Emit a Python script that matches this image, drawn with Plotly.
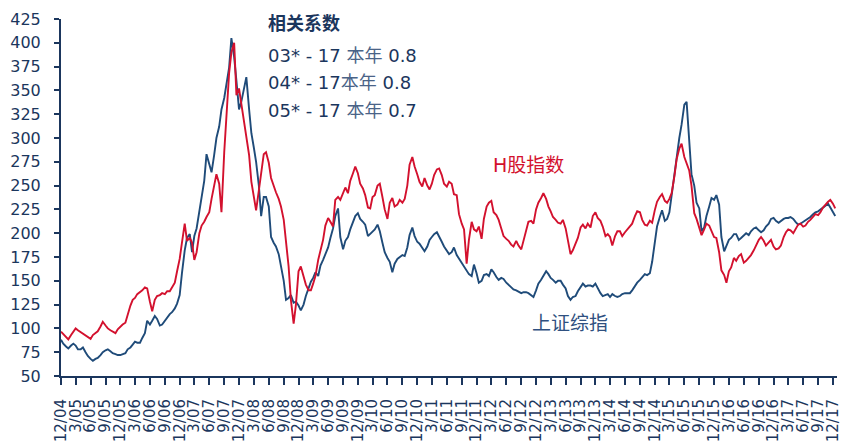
import pandas as pd
import plotly.graph_objects as go

# ---------------- data (semi-monthly readings, Dec 2004 - Dec 2017) ----------------
dates = pd.date_range("2004-12-01", periods=314, freq="SMS")

h_share = [
    96.6, 94,
    91, 88.5, 93, 97, 100, 98, 96, 95, 93, 91, 89, 93, 95, 97, 102, 107, 103, 100, 98, 97, 95, 99, 102, 104,
    106, 115, 124, 130, 132, 136, 138, 140, 143, 142, 128, 118, 130, 134, 135, 137, 136, 139, 139, 143, 148, 160, 173, 190,
    210, 192, 195, 190, 172, 180, 200, 208, 212, 217, 222, 236, 250, 262, 252, 222, 285, 328, 368, 390, 400, 345, 352, 336,
    317, 300, 282, 254, 240, 224, 245, 262, 283, 285, 274, 258, 249, 243, 236, 228, 214, 192, 165, 130, 105, 125, 160, 165,
    155, 146, 140, 140, 147, 155, 172, 183, 193, 208, 216, 212, 207, 235, 238, 235, 242, 248, 242, 255, 263, 270, 263, 252,
    247, 240, 227, 226, 238, 240, 250, 252, 238, 225, 215, 232, 237, 228, 230, 235, 232, 236, 250, 272, 280, 270, 262, 254,
    249, 258, 250, 246, 252, 261, 267, 268, 261, 252, 249, 254, 252, 241, 240, 220, 210, 204, 168, 193, 212, 204, 202, 207,
    194, 215, 228, 232, 234, 222, 219, 214, 205, 197, 194, 192, 188, 186, 192, 187, 183, 193, 204, 212, 213, 210, 225, 232,
    237, 242, 236, 228, 223, 217, 214, 211, 210, 214, 205, 192, 178, 182, 190, 195, 206, 209, 205, 210, 206, 218, 222, 216,
    213, 207, 197, 199, 196, 187, 197, 202, 202, 197, 201, 204, 207, 210, 218, 223, 222, 214, 209, 208, 213, 211, 224, 233,
    238, 241, 234, 232, 236, 242, 260, 278, 289, 294, 280, 274, 266, 250, 221, 215, 205, 198, 204, 210, 208, 203, 196, 195,
    180, 161, 156, 148, 160, 164, 174, 171, 176, 178, 169, 171, 174, 177, 182, 187, 193, 196, 192, 187, 190, 193, 186, 183,
    184, 187, 196, 201, 204, 203, 200, 205, 209, 210, 207, 208, 212, 214, 217, 220, 219, 222, 227, 230, 233, 235, 231, 226,
]

shanghai = [
    88, 84,
    81, 79, 82, 84, 82, 78, 78, 80, 75, 71, 68, 66, 68, 69, 72, 75, 77, 78, 76, 74, 73, 72, 72, 73,
    74, 78, 80, 83, 86, 85, 85, 90, 95, 108, 104, 108, 113, 110, 103, 104, 108, 112, 115, 117, 121, 126, 135, 158,
    182, 195, 199, 180, 197, 205, 222, 238, 255, 283, 273, 264, 282, 300, 312, 330, 342, 358, 374, 405, 385, 360, 330, 338,
    352, 364, 330, 305, 290, 275, 250, 218, 238, 238, 228, 196, 190, 186, 178, 166, 150, 130, 132, 135, 127, 128, 124, 119,
    125, 134, 142, 149, 153, 159, 155, 166, 172, 178, 185, 195, 205, 218, 226, 196, 183, 192, 196, 204, 212, 218, 221, 215,
    212, 209, 197, 199, 202, 204, 209, 202, 190, 180, 174, 170, 159, 168, 173, 175, 177, 176, 185, 198, 206, 197, 191, 189,
    185, 181, 186, 193, 196, 199, 201, 197, 191, 186, 181, 178, 180, 185, 177, 173, 169, 165, 160, 157, 155, 167, 158, 148,
    150, 156, 157, 155, 162, 159, 154, 151, 153, 152, 148, 146, 143, 141, 140, 139, 137, 138, 138, 137, 135, 133, 140, 147,
    151, 155, 160, 157, 153, 151, 148, 150, 150, 146, 142, 134, 130, 133, 134, 139, 144, 147, 144, 145, 145, 144, 147, 142,
    137, 134, 135, 136, 133, 136, 134, 133, 134, 136, 137, 137, 137, 140, 145, 148, 151, 154, 157, 156, 158, 170, 188, 207,
    217, 224, 213, 215, 222, 240, 260, 282, 300, 314, 335, 338, 292, 262, 250, 232, 226, 202, 206, 218, 228, 237, 235, 240,
    230, 196, 181, 186, 193, 195, 199, 199, 193, 195, 198, 200, 198, 202, 205, 206, 203, 201, 203, 207, 210, 215, 216, 213,
    211, 213, 215, 216, 216, 217, 215, 212, 209, 210, 212, 214, 215, 217, 220, 222, 223, 225, 227, 229, 231, 227, 222, 218,
]

tick_labels = [
    "12/04", "3/05", "6/05", "9/05", "12/05", "3/06", "6/06", "9/06", "12/06",
    "3/07", "6/07", "9/07", "12/07", "3/08", "6/08", "9/08", "12/08",
    "3/09", "6/09", "9/09", "12/09", "3/10", "6/10", "9/10", "12/10",
    "3/11", "6/11", "9/11", "12/11", "3/12", "6/12", "9/12", "12/12",
    "3/13", "6/13", "9/13", "12/13", "3/14", "6/14", "9/14", "12/14",
    "3/15", "6/15", "9/15", "12/15", "3/16", "6/16", "9/16", "12/16",
    "3/17", "6/17", "9/17", "12/17",
]

corr_title = "相关系数"
corr_lines = [
    ("03* - 17 ", "本年", " 0.8"),
    ("04* - 17", "本年", " 0.8"),
    ("05* - 17 ", "本年", " 0.7"),
]

assert len(h_share) == len(dates) == len(shanghai)

tick_vals = []
for lab in tick_labels:
    mo, yy = lab.split("/")
    tick_vals.append(f"20{yy}-{int(mo):02d}-01")

# ---------------- styling ----------------
NAVY = "#1B365D"
RED = "#D3112E"
BLUE = "#1F4B79"
FONT = "DejaVu Sans, Noto Sans CJK SC, sans-serif"

fig = go.Figure()
fig.add_trace(go.Scatter(x=dates, y=shanghai, mode="lines",
                         line=dict(color=BLUE, width=1.9), name="上证综指"))
fig.add_trace(go.Scatter(x=dates, y=h_share, mode="lines",
                         line=dict(color=RED, width=1.9), name="H股指数"))

fig.update_layout(
    width=842, height=443,
    margin=dict(l=61, r=0, t=19, b=67),
    paper_bgcolor="white", plot_bgcolor="white",
    showlegend=False,
    font=dict(family=FONT, color=NAVY),
    xaxis=dict(
        type="date",
        range=["2004-12-01", "2017-12-26"],
        tickmode="array", tickvals=tick_vals, ticktext=tick_labels,
        tickangle=-90, ticks="outside", ticklen=7, tickwidth=1.5, tickcolor=NAVY,
        showline=True, linecolor=NAVY, linewidth=2,
        showgrid=False, zeroline=False,
        tickfont=dict(family=FONT, size=15, color=NAVY),
        ticklabelstandoff=8,
        ticklabeloverflow="allow",
    ),
    yaxis=dict(
        range=[50, 425], dtick=25, tick0=50,
        ticks="outside", ticklen=5, tickwidth=1.5, tickcolor=NAVY,
        showline=True, linecolor=NAVY, linewidth=2,
        showgrid=False, zeroline=False,
        tickfont=dict(family=FONT, size=16, color=NAVY),
        ticklabelstandoff=10,
    ),
)

ann = [dict(text=f"<b>{corr_title}</b>", x=0.2638, y=0.986, size=18)]
ys = [0.899, 0.8235, 0.745]
for (a, b, c), yy in zip(corr_lines, ys):
    ann.append(dict(text=f"{a}<span style='color:#4A6387'>{b}</span>{c}", x=0.2638, y=yy, size=18))

for a in ann:
    fig.add_annotation(text=a["text"], x=a["x"], y=a["y"], xref="paper", yref="paper",
                       xanchor="left", yanchor="middle", showarrow=False,
                       font=dict(family=FONT, size=a["size"], color=NAVY))

fig.add_annotation(text="H股指数", x=0.603, y=0.591, xref="paper", yref="paper",
                   xanchor="center", yanchor="middle", showarrow=False,
                   font=dict(family=FONT, size=19, color=RED))
fig.add_annotation(text="上证综指", x=0.6556, y=0.1485, xref="paper", yref="paper",
                   xanchor="center", yanchor="middle", showarrow=False,
                   font=dict(family=FONT, size=19, color="#2F5080"))

fig.write_html("out.html",
               config={"displayModeBar": False},
               post_script="document.body.style.margin='0px';document.body.style.overflow='hidden';")
